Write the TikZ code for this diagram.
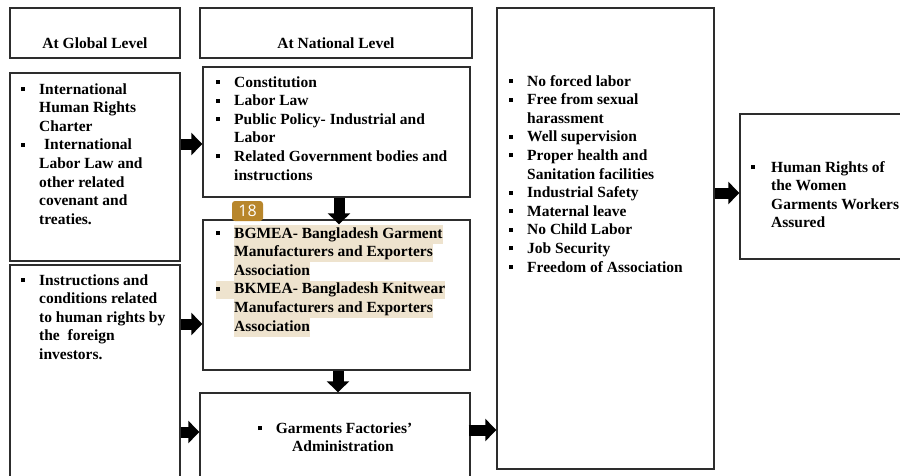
\documentclass[tikz,border=0pt]{standalone}
\usepackage{fontspec}
\setmainfont{Liberation Serif}
\newfontfamily\badgefont{Open Sans}
\usetikzlibrary{arrows.meta}
\definecolor{boxline}{RGB}{45,45,45}
\definecolor{hlcol}{RGB}{238,227,206}
\definecolor{badgecol}{RGB}{184,134,43}
\newcommand\mybul{\rule[3pt]{4pt}{4pt}}
\newcommand\bi{\makebox[18pt][l]{\mybul}}
\newcommand\nb{\makebox[18pt][l]{}}
\newcommand\hlt[1]{{\setlength\fboxsep{0pt}\colorbox{hlcol}{\strut#1}}}
\tikzset{
  box/.style={draw=boxline, line width=1.4pt, rectangle, inner sep=0pt},
  txt/.style={inner sep=0pt, font=\fontsize{15.5}{18.6}\selectfont\bfseries, text=black},
  blk/.style={line width=11pt, black, -{Triangle[length=11pt,width=22pt]}},
}
\begin{document}
\begin{tikzpicture}[x=1pt,y=-1pt]
\useasboundingbox (0,0) rectangle (900,475);
\clip (0,0) rectangle (900,475);
\fill[white] (0,0) rectangle (900,475);
% boxes
\node[box, minimum width=170pt, minimum height=50pt] (glob) at (95,33) {};
\node[box, minimum width=272pt, minimum height=50pt] (natH) at (336,33) {};
\node[box, minimum width=170pt, minimum height=188pt] (g1) at (95,167) {};
\node[box, minimum width=170pt, minimum height=215pt] (g2) at (95,372.5) {};
\node[box, minimum width=267pt, minimum height=130pt] (nat) at (336.5,132) {};
\node[box, minimum width=267pt, minimum height=150pt] (bg) at (336.5,295) {};
\node[box, minimum width=270pt, minimum height=90pt] (gf) at (335,438) {};
\node[box, minimum width=217pt, minimum height=461pt] (big) at (605.5,238.5) {};
\node[box, minimum width=165pt, minimum height=145pt] (hr) at (822.5,186.5) {};
% header texts
\node[txt, anchor=base] (globT) at (95,48) {At Global Level};
\node[txt, anchor=base] (natT) at (336,48) {At National Level};
% left box 1
\node[txt, anchor=base west] (g1T) at (21,94) {\begin{tabular}[t]{@{}l@{}l@{}}
\bi & International\\
\nb & Human Rights\\
\nb & Charter\\
\bi & \hspace{5pt}International\\
\nb & Labor Law and\\
\nb & other related\\
\nb & covenant and\\
\nb & treaties.
\end{tabular}};
% left box 2
\node[txt, anchor=base west] (g2T) at (21,285) {\begin{tabular}[t]{@{}l@{}l@{}}
\bi & Instructions and\\
\nb & conditions related\\
\nb & to human rights by\\
\nb & the\ \ foreign\\
\nb & investors.
\end{tabular}};
% national
\node[txt, anchor=base west] (natL) at (216,87) {\begin{tabular}[t]{@{}l@{}l@{}}
\bi & Constitution\\
\bi & Labor Law\\
\bi & Public Policy- Industrial and\\
\nb & Labor\\
\bi & Related Government bodies and\\
\nb & instructions
\end{tabular}};
% bgmea
\node[txt, anchor=base west] (bgL) at (216,238) {\begin{tabular}[t]{@{}l@{}l@{}}
\bi & \hlt{BGMEA- Bangladesh Garment}\\
\nb & \hlt{Manufacturers and Exporters}\\
\nb & \hlt{Association}\\
\hlt{\makebox[18pt][l]{\mybul}} & \hlt{BKMEA- Bangladesh Knitwear}\\
\nb & \hlt{Manufacturers and Exporters}\\
\nb & \hlt{Association}
\end{tabular}};
% garments factories
\node[txt, anchor=base] (gfT) at (335,433) {\begin{tabular}[t]{@{}c@{}}
\mybul\hspace{14pt}Garments Factories’\\
\hspace*{16pt}Administration
\end{tabular}};
% big box list
\node[txt, anchor=base west] (bigL) at (509,86) {\begin{tabular}[t]{@{}l@{}l@{}}
\bi & No forced labor\\
\bi & Free from sexual\\
\nb & harassment\\
\bi & Well supervision\\
\bi & Proper health and\\
\nb & Sanitation facilities\\
\bi & Industrial Safety\\
\bi & Maternal leave\\
\bi & No Child Labor\\
\bi & Job Security\\
\bi & Freedom of Association
\end{tabular}};
% human rights box
\node[txt, anchor=base west] (hrL) at (751,172) {\begin{tabular}[t]{@{}l@{}l@{}}
\makebox[20pt][l]{\mybul} & Human Rights of\\
 & the Women\\
 & Garments Workers\\
 & Assured
\end{tabular}};
% badge
\node[fill=badgecol, rounded corners=3pt, minimum width=31pt, minimum height=20pt, inner sep=0pt,
      text=white, font=\badgefont\fontsize{16}{16}\selectfont] (badge) at (247.5,211) {18};
% arrows
\draw[blk] (g1.east |- 0,144) -- (nat.west |- 0,144);
\draw[blk] (g2.east |- 0,324) -- (bg.west |- 0,324);
\draw[blk] (g2.east |- 0,432) -- (gf.west |- 0,432);
\draw[blk, shorten >=-5pt] (nat.south -| 339,0) -- (bg.north -| 339,0);
\draw[blk] (bg.south -| 338,0) -- (gf.north -| 338,0);
\draw[blk, shorten <=-2pt] (gf.east |- 0,430) -- (big.west |- 0,430);
\draw[blk] (big.east |- 0,193) -- (hr.west |- 0,193);
\end{tikzpicture}
\end{document}
